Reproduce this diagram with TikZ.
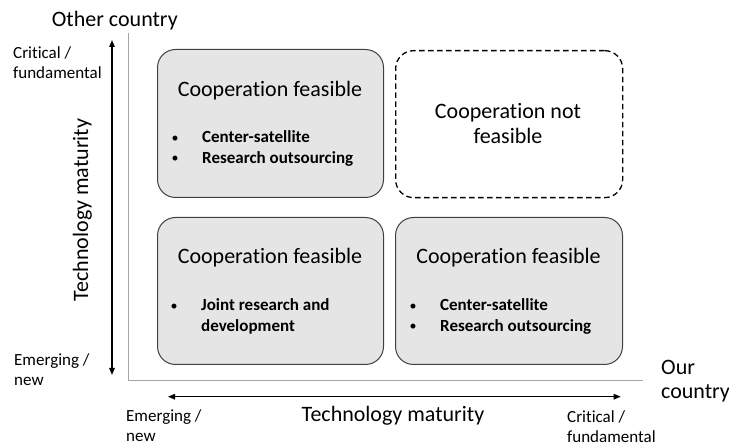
\documentclass[tikz,border=0pt]{standalone}
\usepackage{fontspec}
\setmainfont{Carlito}[Ligatures=CommonOff]
\usetikzlibrary{arrows.meta}
\newcommand\twoL[2]{\vtop{\halign{##\hfil\cr#1\cr#2\cr}}}
\newcommand\twoC[2]{\vtop{\halign{\hfil##\hfil\cr#1\cr#2\cr}}}
\newcommand\itm{\llap{\makebox[0pt]{\raisebox{0.6pt}{\mdseries\fontsize{14}{14}\selectfont\textbullet}}\hspace{27pt}}}
\begin{document}
\begin{tikzpicture}[x=1pt,y=-1pt,
  cell/.style={draw=black!75, fill=black!10, rounded corners=18pt, line width=1pt, anchor=north west},
  dashcell/.style={draw=black, dash pattern=on 5.5pt off 3.5pt, line width=1.3pt, rounded corners=18pt, anchor=north west},
  axisline/.style={draw=black!35, line width=1pt},
  dblarrow/.style={{Triangle[length=7pt,width=5.5pt]}-{Triangle[length=7pt,width=5.5pt]}, line width=1.3pt},
  title/.style={font=\fontsize{22}{25.7}\selectfont, anchor=base, inner sep=0pt},
  big/.style={font=\fontsize{22}{24}\selectfont, anchor=base west, inner sep=0pt},
  item/.style={font=\bfseries\fontsize{17}{20.5}\selectfont, anchor=base west, inner sep=0pt},
  small/.style={font=\fontsize{17}{20}\selectfont, anchor=base west, inner sep=0pt}]
\useasboundingbox (0,0) rectangle (729,446);

% axes
\coordinate (yt) at (128,33);
\coordinate (o) at (128,381);
\coordinate (xr) at (642.7,381);
\draw[axisline] (yt) -- (o) -- (xr);

% boxes
\node[cell, minimum width=226pt, minimum height=148pt] (b1) at (157,49) {};
\node[dashcell, minimum width=227pt, minimum height=147pt] (b2) at (395,50) {};
\node[cell, minimum width=226pt, minimum height=147pt] (b3) at (157,217) {};
\node[cell, minimum width=227pt, minimum height=147pt] (b4) at (395,217) {};

% box texts
\node[title] (t1) at (270,97) {Cooperation feasible};
\node[title] (t2) at (508,118.3) {\twoC{Cooperation not}{feasible}};
\node[title] (t3) at (270,264) {Cooperation feasible};
\node[title] (t4) at (508.5,264) {Cooperation feasible};

\node[item] (i1) at (202,143) {\vtop{\hbox{\itm Center-satellite}\hbox{\itm Research outsourcing}}};
\node[item] (i3) at (201,311) {\vtop{\hbox{\itm Joint research and}\hbox{development}}};
\node[item] (i4) at (440,311) {\vtop{\hbox{\itm Center-satellite}\hbox{\itm Research outsourcing}}};

% arrows
\coordinate (va) at (112,40);
\coordinate (vb) at (112,375);
\coordinate (ha) at (168,396.7);
\coordinate (hb) at (620.7,396.7);
\draw[dblarrow] (va) -- (vb);
\draw[dblarrow] (ha) -- (hb);

% labels
\node[big] (oc) at (51.7,27) {Other country};
\node[big] (ourc) at (661,374.5) {\twoL{Our}{country}};
\node[small] (lcrit) at (13,59) {\twoL{Critical /}{fundamental}};
\node[small] (lemer) at (14,366) {\twoL{Emerging /}{new}};
\node[small] (bemer) at (126,421.5) {\twoL{Emerging /}{new}};
\node[small] (bcrit) at (567,423) {\twoL{Critical /}{fundamental}};
\node[title] (tmx) at (393,422) {Technology maturity};
\node[title, rotate=90] (tmy) at (88,210) {Technology maturity};
\end{tikzpicture}
\end{document}
